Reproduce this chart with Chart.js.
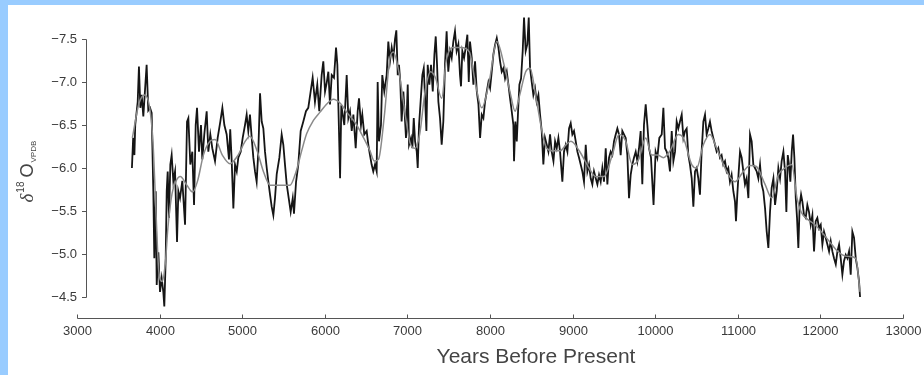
<!DOCTYPE html>
<html>
<head>
<meta charset="utf-8">
<script src="https://cdn.jsdelivr.net/npm/chart.js@4.4.1/dist/chart.umd.min.js"></script>
<style>
  html, body { margin: 0; padding: 0; }
  body { width: 924px; height: 375px; background: #9cf; position: relative; overflow: hidden; }
  #grafico { position: absolute; left: 8px; top: 5px; background: #fff; }
</style>
</head>
<body>
<canvas id="grafico" width="916" height="370"></canvas>
<script>
// serie cruda (años antes del presente, d18O)
const anios = [3665, 3680, 3695, 3705, 3735, 3750, 3767, 3783, 3803, 3823, 3843, 3863, 3884, 3904, 3924, 3936, 3953, 3965, 3985, 4005,
  4025, 4045, 4057, 4074, 4086, 4098, 4114, 4130, 4146, 4166, 4187, 4211, 4227, 4247, 4275, 4308, 4332, 4348, 4372, 4396,
  4417, 4437, 4453, 4477, 4501, 4517, 4541, 4570, 4590, 4614, 4638, 4671, 4703, 4735, 4760, 4784, 4812, 4840, 4855, 4873,
  4893, 4913, 4934, 4953, 4982, 5006, 5034, 5054, 5074, 5094, 5115, 5135, 5155, 5175, 5195, 5216, 5236, 5256, 5276, 5297,
  5317, 5337, 5357, 5377, 5397, 5418, 5450, 5478, 5498, 5518, 5539, 5563, 5587, 5612, 5627, 5652, 5679, 5708, 5740, 5772,
  5800, 5829, 5853, 5881, 5909, 5933, 5962, 5982, 6003, 6023, 6043, 6063, 6084, 6111, 6136, 6152, 6170, 6185, 6200, 6236,
  6265, 6285, 6305, 6326, 6346, 6374, 6398, 6414, 6438, 6454, 6478, 6507, 6527, 6547, 6567, 6587, 6608, 6628, 6640, 6656,
  6680, 6696, 6720, 6749, 6769, 6789, 6810, 6830, 6850, 6866, 6883, 6898, 6914, 6930, 6951, 6963, 6983, 7004, 7020, 7044,
  7060, 7077, 7093, 7113, 7125, 7141, 7157, 7181, 7198, 7214, 7230, 7246, 7266, 7286, 7307, 7327, 7343, 7359, 7375, 7395,
  7415, 7435, 7455, 7475, 7495, 7516, 7536, 7556, 7576, 7596, 7617, 7637, 7649, 7665, 7686, 7706, 7726, 7743, 7758, 7779,
  7799, 7819, 7840, 7860, 7880, 7900, 7920, 7940, 7961, 7981, 8001, 8021, 8041, 8061, 8082, 8102, 8122, 8142, 8162, 8182,
  8203, 8223, 8243, 8263, 8283, 8291, 8307, 8324, 8340, 8356, 8376, 8396, 8412, 8432, 8452, 8469, 8485, 8505, 8525, 8545,
  8565, 8586, 8606, 8626, 8646, 8666, 8687, 8707, 8727, 8747, 8768, 8788, 8808, 8828, 8848, 8876, 8896, 8917, 8937, 8957,
  8977, 8997, 9017, 9038, 9058, 9078, 9098, 9118, 9138, 9159, 9179, 9199, 9219, 9239, 9259, 9280, 9300, 9320, 9340, 9360,
  9380, 9401, 9421, 9441, 9461, 9481, 9501, 9522, 9542, 9562, 9582, 9602, 9622, 9643, 9663, 9683, 9703, 9723, 9743, 9764,
  9784, 9804, 9824, 9844, 9864, 9885, 9905, 9925, 9949, 9980, 10005, 10026, 10050, 10079, 10099, 10119, 10139, 10159, 10179, 10200,
  10220, 10240, 10260, 10280, 10300, 10321, 10341, 10361, 10381, 10401, 10421, 10442, 10462, 10482, 10502, 10522, 10542, 10562, 10583, 10603,
  10623, 10643, 10663, 10683, 10703, 10724, 10744, 10764, 10784, 10804, 10824, 10845, 10865, 10885, 10905, 10925, 10946, 10966, 10978, 10994,
  11011, 11027, 11047, 11067, 11087, 11107, 11128, 11148, 11168, 11188, 11208, 11229, 11249, 11269, 11289, 11309, 11330, 11350, 11370, 11390,
  11410, 11431, 11451, 11471, 11491, 11511, 11531, 11552, 11572, 11588, 11605, 11620, 11636, 11653, 11669, 11685, 11702, 11717, 11733, 11749,
  11766, 11782, 11802, 11822, 11842, 11862, 11883, 11903, 11923, 11943, 11963, 11984, 12004, 12024, 12044, 12064, 12085, 12105, 12125, 12145,
  12165, 12186, 12206, 12226, 12246, 12266, 12286, 12307, 12327, 12347, 12367, 12387, 12407, 12428, 12448, 12468, 12480];
const d18O = [-6.0, -6.35, -6.15, -6.5, -6.77, -7.18, -6.7, -6.85, -6.6, -6.9, -7.2, -6.67, -6.7, -6.64, -5.73, -4.95, -5.73, -4.64, -5.02, -4.56,
  -4.72, -4.56, -4.39, -4.95, -5.73, -5.96, -5.42, -6.04, -6.15, -5.85, -5.96, -5.14, -5.73, -5.65, -5.85, -5.34, -6.54, -6.58, -6.04, -6.19,
  -5.57, -6.5, -6.7, -6.19, -6.5, -6.1, -6.39, -6.66, -6.19, -6.39, -6.23, -6.08, -6.35, -6.54, -6.7, -6.5, -6.39, -6.1, -6.45, -6.08,
  -5.53, -6.04, -5.96, -6.12, -6.19, -6.35, -6.5, -6.62, -6.43, -6.62, -6.35, -6.12, -5.96, -5.84, -6.19, -6.87, -6.54, -6.46, -6.19, -6.0,
  -5.84, -5.69, -5.55, -5.45, -5.65, -5.93, -6.12, -6.39, -6.27, -6.04, -5.81, -5.65, -5.49, -5.65, -5.47, -5.84, -6.04, -6.43, -6.54, -6.66,
  -6.7, -6.89, -7.05, -6.77, -6.97, -6.66, -7.08, -7.24, -6.89, -6.99, -7.12, -6.74, -7.08, -7.05, -7.4, -7.2, -6.5, -5.88, -6.73, -6.5,
  -7.08, -6.58, -6.66, -6.43, -6.62, -6.23, -6.66, -6.81, -6.5, -6.62, -6.39, -6.43, -6.27, -6.15, -6.04, -5.96, -6.04, -5.96, -7.0, -6.31,
  -6.5, -7.08, -6.89, -7.08, -7.47, -7.24, -7.4, -7.28, -7.5, -7.6, -7.08, -7.2, -7.0, -6.54, -6.89, -6.7, -6.35, -6.97, -6.27, -6.35,
  -6.23, -6.58, -6.31, -6.19, -6.0, -6.5, -6.73, -7.08, -7.16, -6.81, -6.43, -7.2, -6.97, -7.2, -6.89, -7.32, -7.53, -7.2, -6.77, -6.58,
  -6.27, -6.54, -7.2, -7.59, -7.12, -7.36, -7.28, -7.47, -7.59, -7.36, -7.44, -7.08, -6.95, -7.36, -7.28, -7.4, -7.55, -7.0, -7.47, -7.28,
  -6.97, -7.24, -6.89, -6.74, -6.35, -6.62, -6.58, -6.77, -6.89, -7.0, -6.93, -7.12, -7.32, -7.43, -7.51, -7.4, -7.24, -7.12, -7.16, -7.04,
  -7.12, -6.97, -6.81, -6.66, -6.5, -6.08, -6.54, -6.31, -6.66, -6.97, -7.04, -7.36, -7.75, -7.36, -7.44, -7.75, -7.16, -7.0, -6.85, -6.93,
  -6.77, -6.85, -6.62, -6.43, -6.04, -6.35, -6.27, -6.19, -6.39, -6.19, -6.08, -6.31, -6.23, -6.35, -6.19, -5.84, -6.19, -6.27, -6.19, -6.46,
  -6.52, -6.39, -6.43, -6.31, -6.19, -6.12, -6.04, -5.96, -5.84, -6.27, -5.96, -6.04, -5.88, -5.81, -5.96, -5.88, -5.81, -5.92, -5.84, -6.0,
  -5.84, -6.23, -5.81, -6.12, -6.19, -6.15, -6.31, -6.39, -6.46, -6.39, -6.15, -6.43, -6.39, -6.35, -6.15, -5.65, -5.92, -6.04, -6.12, -6.19,
  -6.08, -6.23, -6.43, -5.81, -6.5, -6.74, -6.5, -6.23, -6.12, -5.57, -6.19, -6.12, -6.35, -6.39, -6.7, -6.23, -6.19, -6.12, -5.96, -6.43,
  -6.08, -6.19, -6.54, -6.46, -6.54, -6.62, -6.35, -6.43, -6.46, -6.15, -6.04, -5.88, -5.55, -5.96, -6.0, -5.88, -5.69, -6.19, -6.54, -6.62,
  -6.39, -6.46, -6.54, -6.43, -6.35, -6.27, -6.19, -6.23, -6.12, -6.15, -6.04, -6.08, -5.96, -6.0, -5.84, -5.92, -5.73, -5.61, -5.38, -5.69,
  -5.96, -6.19, -6.12, -5.96, -5.81, -5.88, -5.65, -6.39, -6.31, -6.04, -6.0, -5.96, -5.88, -6.04, -5.81, -5.73, -5.53, -5.26, -5.07, -5.49,
  -5.77, -5.88, -5.57, -5.73, -6.0, -5.88, -6.08, -6.19, -5.96, -5.49, -6.15, -6.04, -5.84, -6.19, -6.39, -6.12, -5.65, -5.42, -5.07, -5.57,
  -5.69, -5.61, -5.45, -5.42, -5.57, -5.49, -5.34, -5.45, -5.03, -5.38, -5.42, -5.3, -5.34, -5.11, -5.26, -5.19, -5.11, -5.03, -5.15, -5.03,
  -4.95, -4.88, -5.03, -5.11, -4.95, -4.76, -4.92, -4.99, -4.95, -5.03, -4.76, -5.26, -5.19, -4.95, -4.84, -4.68, -4.5];

// curva suavizada
const aniosSuave = [3670, 3750, 3820, 3880, 3920, 3960, 3990, 4030, 4070, 4100, 4150, 4200, 4250, 4330, 4400, 4460, 4530, 4600, 4671, 4760,
  4852, 4950, 5030, 5094, 5180, 5260, 5337, 5450, 5579, 5650, 5720, 5781, 5860, 5942, 6030, 6103, 6190, 6265, 6386, 6470,
  6547, 6600, 6650, 6720, 6789, 6830, 6900, 6980, 7030, 7093, 7150, 7214, 7280, 7340, 7415, 7470, 7550, 7650, 7750, 7830,
  7900, 7990, 8082, 8170, 8250, 8303, 8360, 8432, 8485, 8560, 8646, 8687, 8760, 8850, 8920, 8980, 9080, 9199, 9280, 9380,
  9480, 9562, 9640, 9723, 9800, 9885, 9957, 10030, 10099, 10180, 10280, 10341, 10442, 10502, 10583, 10663, 10744, 10865, 10966, 11067,
  11148, 11220, 11330, 11410, 11491, 11572, 11653, 11717, 11766, 11850, 11933, 12020, 12105, 12190, 12266, 12350, 12428, 12480];
const d18OSuave = [-6.35, -6.75, -6.85, -6.7, -6.3, -5.4, -4.8, -4.68, -4.9, -5.3, -5.7, -5.85, -5.9, -5.8, -5.72, -5.85, -6.15, -6.3, -6.33, -6.15,
  -6.05, -6.15, -6.3, -6.37, -6.2, -5.95, -5.8, -5.8, -5.8, -5.95, -6.2, -6.4, -6.55, -6.65, -6.75, -6.8, -6.75, -6.65, -6.5, -6.35,
  -6.2, -6.08, -6.1, -6.6, -7.28, -7.35, -7.1, -6.58, -6.3, -6.23, -6.4, -6.89, -7.12, -7.05, -6.81, -7.25, -7.4, -7.4, -7.35, -6.95,
  -6.7, -7.0, -7.47, -7.2, -6.85, -6.66, -6.85, -7.12, -7.16, -6.8, -6.35, -6.23, -6.2, -6.2, -6.27, -6.31, -6.2, -6.0, -5.9, -5.9,
  -6.15, -6.39, -6.32, -6.04, -6.1, -6.35, -6.15, -6.15, -6.12, -6.2, -6.39, -6.35, -6.04, -6.0, -6.27, -6.39, -6.23, -5.96, -5.84, -5.96,
  -6.03, -6.02, -5.81, -5.65, -5.92, -6.0, -6.04, -5.65, -5.49, -5.4, -5.34, -5.25, -5.15, -5.05, -4.99, -4.97, -4.95, -4.56];

// ticks
const ticksX = [3000, 4000, 5000, 6000, 7000, 8000, 9000, 10000, 11000, 12000, 13000];
const ticksY = [-7.5, -7.0, -6.5, -6.0, -5.5, -5.0, -4.5];
const etiquetasY = ["\u22127.5", "\u22127.0", "\u22126.5", "\u22126.0", "\u22125.5", "\u22125.0", "\u22124.5"];
const tituloX = "Years Before Present";

const colorEje = "#555";
const colorTexto = "#3a3a3a";

// Ejes estilo IDL (separados del área de datos)
const ejesPlugin = {
    id: "ejesIdl",
    afterDraw(chart) {
        const { ctx, chartArea, scales } = chart;
        const sx = scales.x, sy = scales.y;
        const ejeYx = chartArea.left + 9;
        const ejeXy = chartArea.bottom + 21;

        ctx.save();
        ctx.strokeStyle = colorEje;
        ctx.lineWidth = 1;
        ctx.fillStyle = colorTexto;

        // eje Y
        const yTop = Math.round(sy.getPixelForValue(ticksY[0])) + 0.5;
        const yBot = Math.round(sy.getPixelForValue(ticksY[ticksY.length - 1])) + 0.5;
        ctx.beginPath();
        ctx.moveTo(Math.round(ejeYx) + 0.5, yTop);
        ctx.lineTo(Math.round(ejeYx) + 0.5, yBot);
        ctx.stroke();
        ctx.font = "13px 'Liberation Sans', Arial, sans-serif";
        ctx.textAlign = "right";
        ctx.textBaseline = "middle";
        ticksY.forEach((v, i) => {
            const py = Math.round(sy.getPixelForValue(v)) + 0.5;
            ctx.beginPath();
            ctx.moveTo(Math.round(ejeYx) + 0.5, py);
            ctx.lineTo(Math.round(ejeYx) - 4, py);
            ctx.stroke();
            ctx.fillText(etiquetasY[i], ejeYx - 9, py);
        });

        // eje X
        const xIni = Math.round(sx.getPixelForValue(ticksX[0])) + 0.5;
        const xFin = Math.round(sx.getPixelForValue(ticksX[ticksX.length - 1])) + 0.5;
        const ey = Math.round(ejeXy) + 0.5;
        ctx.beginPath();
        ctx.moveTo(xIni, ey);
        ctx.lineTo(xFin, ey);
        ctx.stroke();
        ctx.textAlign = "center";
        ctx.textBaseline = "top";
        ticksX.forEach(v => {
            const px = Math.round(sx.getPixelForValue(v)) + 0.5;
            ctx.beginPath();
            ctx.moveTo(px, ey);
            ctx.lineTo(px, ey - 4);
            ctx.stroke();
            ctx.fillText(String(v), px, ejeXy + 7);
        });

        // título eje X
        ctx.font = "21px 'Liberation Sans', Arial, sans-serif";
        ctx.textBaseline = "middle";
        ctx.fillStyle = "#444";
        ctx.fillText(tituloX, 528, ejeXy + 39);

        // título eje Y: δ18O VPDB (rotado)
        ctx.translate(25, (yTop + yBot) / 2 + 34);
        ctx.rotate(-Math.PI / 2);
        ctx.textAlign = "left";
        ctx.textBaseline = "alphabetic";
        let cx = 0;
        ctx.font = "italic 19px 'Liberation Serif', serif";
        ctx.fillText("\u03b4", cx, 0);
        cx += ctx.measureText("\u03b4").width + 1;
        ctx.font = "10px 'Liberation Sans', Arial, sans-serif";
        ctx.fillText("18", cx, -9);
        cx += ctx.measureText("18").width + 4;
        ctx.font = "18px 'Liberation Sans', Arial, sans-serif";
        ctx.fillText("O", cx, 0);
        cx += ctx.measureText("O").width + 1;
        ctx.font = "8px 'Liberation Sans', Arial, sans-serif";
        ctx.fillText("VPDB", cx, 3);
        ctx.restore();
    }
};

const ctxGrafico = document.getElementById("grafico").getContext("2d");
new Chart(ctxGrafico, {
    type: "line",
    data: {
        datasets: [
            {
                label: "d18O",
                data: anios.map((a, i) => ({ x: a, y: d18O[i] })),
                borderColor: "#151515",
                borderWidth: 1.8,
                pointRadius: 0,
                tension: 0,
                clip: false,
                order: 1
            },
            {
                label: "suavizado",
                data: aniosSuave.map((a, i) => ({ x: a, y: d18OSuave[i] })),
                borderColor: "#8a8a8a",
                borderWidth: 1.5,
                pointRadius: 0,
                cubicInterpolationMode: "monotone",
                clip: false,
                order: 0
            }
        ]
    },
    options: {
        responsive: false,
        animation: false,
        devicePixelRatio: 1,
        layout: { padding: { left: 69, right: 21, top: 34, bottom: 78 } },
        plugins: { legend: { display: false }, tooltip: { enabled: false } },
        scales: {
            x: { type: "linear", min: ticksX[0], max: ticksX[ticksX.length - 1], display: false },
            y: { type: "linear", min: ticksY[0], max: ticksY[ticksY.length - 1], reverse: true, display: false }
        }
    },
    plugins: [ejesPlugin]
});
</script>
</body>
</html>
